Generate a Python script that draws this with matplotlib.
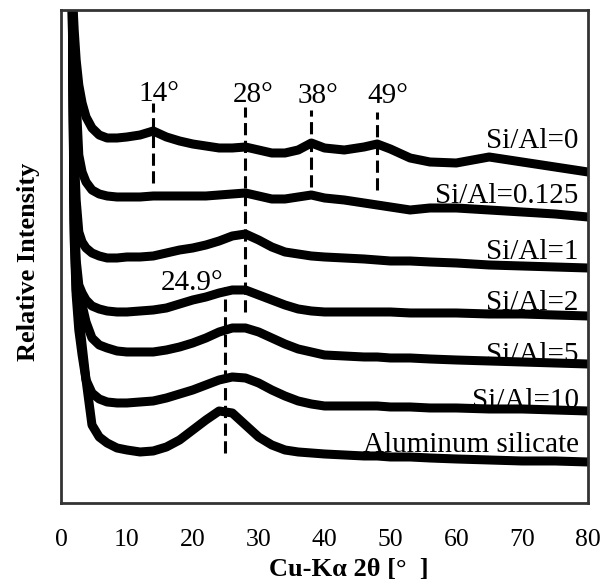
import matplotlib
matplotlib.use("Agg")
import matplotlib.pyplot as plt

plt.rcParams["font.family"] = ["Liberation Serif", "DejaVu Serif"]

# 2-theta grid (deg) shared by all patterns
two_theta = [1.7, 2.0, 2.3, 2.7, 3.2, 3.8, 4.7, 5.8, 7, 8.5, 10, 12, 14, 16, 18, 20, 22, 24, 26,
             28, 30, 32, 34, 36, 38, 40, 43, 46, 48, 50, 53, 56, 60, 65, 70, 75, 80]

# relative intensity (a.u., already stacked with offsets)
si_al_0 = [513, 473, 443, 418, 400, 386, 375, 368, 365, 365, 366, 368, 372, 366, 362, 359, 357, 355, 355,
           356, 353, 350, 350, 353, 360, 355, 353, 356, 359, 354, 345, 341, 340, 346, 341, 336, 331]
si_al_0125 = [513, 443, 403, 348, 331, 321, 313, 309, 307, 306, 306, 306, 307, 307, 307, 307, 307, 308, 309,
              310, 307, 304, 304, 306, 308, 305, 303, 300, 298, 296, 293, 295, 295, 293, 291, 289, 286]
si_al_1 = [503, 353, 303, 271, 261, 255, 250, 247, 245, 245, 246, 246, 247, 250, 253, 255, 258, 262, 267,
           269, 263, 256, 251, 249, 247, 246, 245, 244, 243, 242, 242, 241, 240, 238, 237, 236, 235]
si_al_2 = [503, 303, 243, 218, 210, 203, 197, 194, 192, 191, 191, 192, 193, 195, 199, 203, 206, 210, 213,
           213, 208, 203, 198, 194, 192, 191, 191, 191, 191, 191, 190, 190, 190, 189, 189, 188, 187]
si_al_5 = [503, 283, 233, 213, 198, 181, 165, 158, 155, 152, 151, 151, 151, 153, 156, 160, 165, 171, 175,
           175, 171, 165, 159, 154, 151, 148, 147, 146, 146, 145, 145, 144, 143, 142, 141, 140, 139]
si_al_10 = [503, 273, 213, 188, 158, 123, 110, 104, 101, 100, 100, 101, 102, 105, 109, 113, 118, 123, 126,
            125, 120, 113, 107, 102, 99, 97, 97, 97, 97, 96, 96, 95, 95, 94, 94, 93, 92]
al_silicate = [503, 263, 208, 173, 148, 123, 78, 66, 60, 55, 53, 51, 52, 56, 63, 73, 83, 92, 90,
               78, 66, 58, 53, 51, 50, 49, 48, 47, 47, 46, 46, 45, 44, 43, 42, 42, 41]

series = [si_al_0, si_al_0125, si_al_1, si_al_2, si_al_5, si_al_10, al_silicate]
series_names = ["Si/Al=0", "Si/Al=0.125", "Si/Al=1", "Si/Al=2", "Si/Al=5", "Si/Al=10",
                "Aluminum silicate"]
name_levels = [355, 300, 244, 193, 141, 95, 51]

# peak marker lines: position, bottom, top, label, label x, label y
peak_pos = [14, 28, 38, 48, 24.9]
peak_low = [320, 191, 316, 313, 50]
peak_high = [400, 396, 393, 391, 216]
peak_text = ["14°", "28°", "38°", "49°", "24.9°"]
peak_text_x = [14.9, 29.1, 39.0, 49.6, 19.9]
peak_text_y = [402, 401, 400, 400, 213]

xticks = [0, 10, 20, 30, 40, 50, 60, 70, 80]

fig = plt.figure(figsize=(6.0, 5.85), dpi=100)
ax = fig.add_axes([0.1017, 0.1402, 0.8783, 0.8427])

for ys in series:
    ax.plot(two_theta, ys, color="black", lw=6.5, solid_joinstyle="round", solid_capstyle="round")

for xp, lo, hi in zip(peak_pos, peak_low, peak_high):
    ax.plot([xp, xp], [lo, hi], color="black", lw=2.2, dashes=(4, 1.8))

for tx, tlx, tly in zip(peak_text, peak_text_x, peak_text_y):
    ax.text(tlx, tly, tx, fontsize=21, ha="center", va="baseline")

for nm, lvl in zip(series_names, name_levels):
    ax.text(78.6, lvl, nm, fontsize=21, ha="right", va="baseline")

ax.set_xlim(0, 80)
ax.set_ylim(0, 493)
ax.set_xticks(xticks)
ax.set_xticklabels([str(t) for t in xticks])
ax.set_yticks([])
ax.tick_params(axis="x", length=0, pad=19, labelsize=18.5)
for sp in ax.spines.values():
    sp.set_color("#333333")
    sp.set_linewidth(2)

ax.set_xlabel("Cu-Kα 2θ [°  ]", fontsize=19, fontweight="bold")
ax.xaxis.set_label_coords(0.546, -0.112)
ax.set_ylabel("Relative Intensity", fontsize=19, fontweight="bold")
ax.yaxis.set_label_coords(-0.04, 0.489)

fig.savefig("out.png", dpi=100)
